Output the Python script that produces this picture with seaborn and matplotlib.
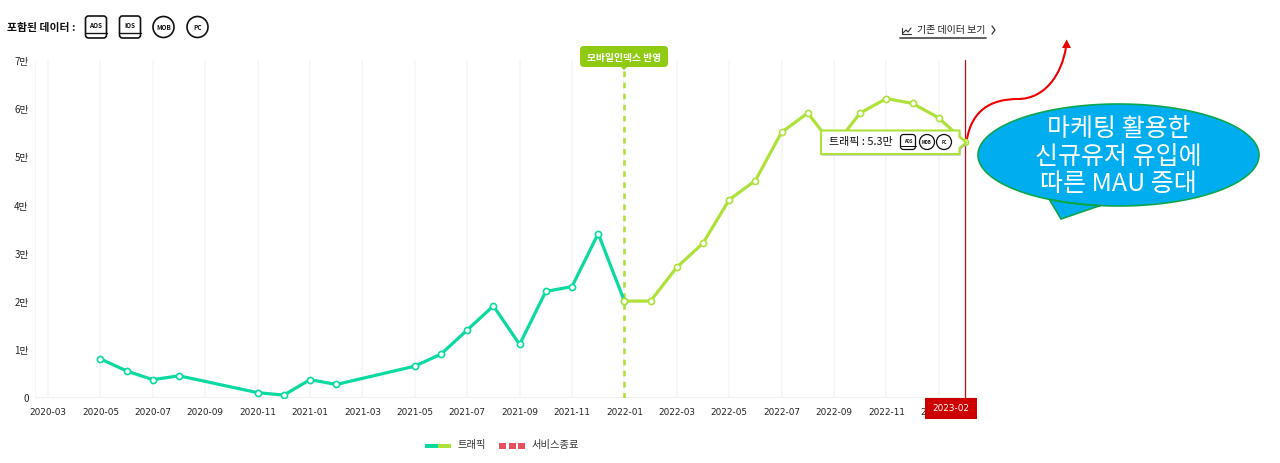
import numpy as np
import pandas as pd
import matplotlib
matplotlib.use("Agg")
import matplotlib.pyplot as plt
import seaborn as sns
from matplotlib.patches import Circle, FancyBboxPatch, PathPatch, Polygon, Rectangle
from matplotlib.path import Path

# monthly traffic, unit is 만
months_before = ["2020-05", "2020-06", "2020-07", "2020-08", "2020-11", "2020-12", "2021-01", "2021-02",
                 "2021-05", "2021-06", "2021-07", "2021-08", "2021-09", "2021-10", "2021-11", "2021-12",
                 "2022-01"]
traffic_before = [0.8, 0.55, 0.37, 0.45, 0.1, 0.05, 0.37, 0.27,
                  0.65, 0.9, 1.4, 1.9, 1.1, 2.2, 2.3, 3.4,
                  2.0]
months_after = ["2022-01", "2022-02", "2022-03", "2022-04", "2022-05", "2022-06", "2022-07", "2022-08",
                "2022-09", "2022-10", "2022-11", "2022-12", "2023-01", "2023-02"]
traffic_after = [2.0, 2.0, 2.7, 3.2, 4.1, 4.5, 5.5, 5.9,
                 5.2, 5.9, 6.2, 6.1, 5.8, 5.3]

x_labels = ["2020-03", "2020-05", "2020-07", "2020-09", "2020-11", "2021-01", "2021-03", "2021-05", "2021-07",
            "2021-09", "2021-11", "2022-01", "2022-03", "2022-05", "2022-07", "2022-09", "2022-11", "2023-01"]
y_values = [0, 1, 2, 3, 4, 5, 6, 7]
y_labels = ["0", "1만", "2만", "3만", "4만", "5만", "6만", "7만"]

index_month = "2022-01"
end_month = "2023-02"

TEAL = "#0ad9a0"
LIME = "#aee23a"
LABEL_GREEN = "#8fcb12"
RED = "#b0121a"
FONT = ["Noto Sans CJK KR", "DejaVu Sans"]


# months since 2020-03, so the axis stays evenly spaced
def month_pos(labels):
    return (pd.PeriodIndex(labels, freq="M") - pd.Period("2020-03", freq="M")).map(lambda d: d.n)


sns.set_style("white")
plt.rcParams["font.family"] = FONT

fig = plt.figure(figsize=(12.8, 4.64), dpi=100)
ax = fig.add_axes([35 / 1280, (464 - 398.5) / 464, 943 / 1280, 337.5 / 464])

before = pd.DataFrame({"pos": month_pos(months_before), "traffic": traffic_before})
after = pd.DataFrame({"pos": month_pos(months_after), "traffic": traffic_after})

ax.axvline(-0.5, color="#f4f4f4", lw=1.1, zorder=0)
for pos in month_pos(x_labels):
    ax.axvline(pos, color="#f5f5f5", lw=1.1, zorder=0)
ax.axhline(0, color="#eeeeee", lw=1.2, zorder=0)

ax.axvline(month_pos([index_month])[0], color=LIME, lw=1.9, ls=(0, (2.1, 2.1)), zorder=1)
ax.axvline(month_pos([end_month])[0], color=RED, lw=0.9, zorder=1)

for data, color in [(before, TEAL), (after, LIME)]:
    sns.lineplot(data=data, x="pos", y="traffic", ax=ax, color=color, lw=2.3, marker="o", markersize=4.4,
                 markerfacecolor="white", markeredgecolor=color, markeredgewidth=1.2, zorder=3)

ax.set_xlim(-0.5, 35.5)
ax.set_ylim(0, 7)
ax.set_xticks(month_pos(x_labels))
ax.set_xticklabels(x_labels, fontsize=6.4, color="#222222", family="DejaVu Sans")
ax.set_yticks(y_values)
ax.set_yticklabels(y_labels, fontsize=7, color="#222222")
ax.tick_params(axis="both", length=0)
ax.tick_params(axis="x", pad=7)
ax.tick_params(axis="y", pad=4.5)
ax.set_xlabel("")
ax.set_ylabel("")
sns.despine(ax=ax, left=True, bottom=True, top=True, right=True)

# overlay in pixel coords for the page furniture around the chart
over = fig.add_axes([0, 0, 1, 1], zorder=5)
over.set_xlim(0, 1280)
over.set_ylim(464, 0)
over.axis("off")
over.patch.set_alpha(0)


def square_icon(x, y, text, w=21, h=22, lw=1.2, size=4.6):
    over.add_patch(FancyBboxPatch((x - w / 2 + 2, y - h / 2 + 2), w - 4, h - 4, boxstyle="round,pad=2,rounding_size=3",
                                  fc="white", ec="#111111", lw=lw))
    over.plot([x - w / 2, x + w / 2], [y + h * 0.25, y + h * 0.25], color="#111111", lw=lw * 0.8)
    over.text(x, y - h * 0.1, text, fontsize=size, weight="bold", ha="center", va="center", color="#111111")


def round_icon(x, y, text, r=10.5, lw=1.2, size=4.6):
    over.add_patch(Circle((x, y), r, fc="white", ec="#111111", lw=lw))
    over.text(x, y, text, fontsize=size, weight="bold", ha="center", va="center", color="#111111")


over.text(7, 27.5, "포함된 데이터 :", fontsize=7.8, weight="bold", va="center", color="#111111")
square_icon(96, 28, "AOS")
square_icon(130, 28, "IOS")
round_icon(163.5, 28, "MOB")
round_icon(197.5, 28, "PC")

# link to the old data view
over.plot([902, 902, 911], [29, 35, 35], color="#333333", lw=0.8)
over.plot([903, 906, 908, 911], [34, 31, 33, 29], color="#333333", lw=0.8)
over.text(917, 29.5, "기존 데이터 보기", fontsize=7.2, va="center", color="#222222")
over.plot([900, 986], [38.5, 38.5], color="#444444", lw=1.2)
over.plot([992, 995, 992], [27, 31, 35], color="#333333", lw=0.9)

# index marker label
over.add_patch(FancyBboxPatch((582, 49), 84, 17, boxstyle="round,pad=2,rounding_size=4", fc=LABEL_GREEN, ec="none"))
over.add_patch(Polygon([[621, 68], [627, 68], [624, 71]], fc=LABEL_GREEN, ec="none"))
over.text(624, 57.5, "모바일인덱스 반영", fontsize=7, weight="bold", color="white", ha="center", va="center")

# end of service tag covers the 2023-01 tick
over.add_patch(Rectangle((925, 399), 52, 21, fc="#cc0000", ec="none"))
over.text(951, 409, "2023-02", fontsize=6.4, color="white", ha="center", va="center", family="DejaVu Sans")

# tooltip
tip = [[821, 131.5], [959.5, 131.5], [959.5, 138], [966, 143.5], [959.5, 149], [959.5, 155], [821, 155]]
over.add_patch(Polygon([[p[0] + 1, p[1] + 1.5] for p in tip], fc="#aaaaaa", ec="none"))
over.add_patch(Polygon(tip, fc="white", ec=LIME, lw=1.5))
over.text(829, 142.5, "트래픽 : 5.3만", fontsize=7.9, va="center", color="#111111")
square_icon(908, 143, "AOS", w=15, h=15, lw=0.9, size=3)
round_icon(927, 143, "MOB", r=7.5, lw=0.9, size=3)
round_icon(944, 143, "PC", r=7.5, lw=0.9, size=3)

# red arrow
curve = Path([(967, 140), (972, 112), (990, 100), (1018, 100), (1045, 100), (1062, 75), (1066, 48)],
             [Path.MOVETO, Path.CURVE4, Path.CURVE4, Path.CURVE4, Path.CURVE4, Path.CURVE4, Path.CURVE4])
over.add_patch(PathPatch(curve, fc="none", ec="#ee0000", lw=1.5))
over.add_patch(Polygon([[1066.7, 40.5], [1062, 49], [1071, 49]], fc="#ee0000", ec="none"))

# speech bubble, ellipse outline with a tail cut in
cx, cy, rx, ry = 1118.5, 156, 140.5, 51
t0 = np.arctan2((200 - cy) / ry, (1050 - cx) / rx)
t1 = np.arctan2((207 - cy) / ry, (1100 - cx) / rx)
theta = np.linspace(t0, t1 - 2 * np.pi, 200)
outline = np.column_stack([cx + rx * np.cos(theta), cy + ry * np.sin(theta)])
outline = np.vstack([outline, [[1061, 220]]])
over.add_patch(Polygon(outline, fc="#00aeef", ec="#0aa64f", lw=1.2))
for line, ty in [("마케팅 활용한", 129), ("신규유저 유입에", 157), ("따른 MAU 증대", 184)]:
    over.text(1118.5, ty, line, fontsize=18, weight="light", color="white", ha="center", va="center",
              family=["Noto Sans CJK KR"])

# legend
over.add_patch(Rectangle((425, 444.5), 13, 4, fc=TEAL, ec="none"))
over.add_patch(Rectangle((438, 444.5), 13, 4, fc=LIME, ec="none"))
over.text(458, 445.5, "트래픽", fontsize=7.4, va="center", color="#333333")
for sx in [499, 508.5, 518]:
    over.add_patch(Rectangle((sx, 443.5), 7, 6, fc="#e5505c", ec="none"))
over.text(532, 445.5, "서비스종료", fontsize=7.4, va="center", color="#333333")

fig.savefig("out.png", dpi=100)
